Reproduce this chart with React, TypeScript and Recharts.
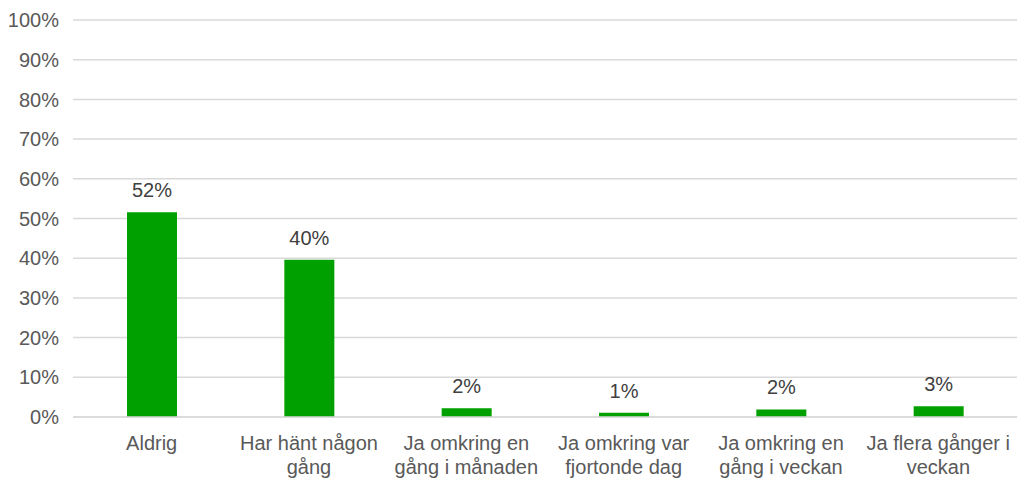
import React from 'react';
import { BarChart, Bar, XAxis, YAxis, CartesianGrid, LabelList } from 'recharts';

const categories = [
  'Aldrig',
  'Har hänt någon gång',
  'Ja omkring en gång i månaden',
  'Ja omkring var fjortonde dag',
  'Ja omkring en gång i veckan',
  'Ja flera gånger i veckan',
];
const shares = [51.6, 39.6, 2.2, 1.1, 1.9, 2.7];
const yTicks = [0, 10, 20, 30, 40, 50, 60, 70, 80, 90, 100];

const data = categories.map((name, i) => ({ name, value: shares[i] }));

const FONT = '"Liberation Sans", Arial, sans-serif';

// break a label into lines no wider than maxWidth, measured with canvas
const wrapLabel = (label: string, maxWidth: number): string[] => {
  const ctx = document.createElement('canvas').getContext('2d');
  if (!ctx) return [label];
  ctx.font = `20px ${FONT}`;
  const lines: string[] = [];
  let cur = '';
  label.split(' ').forEach((word) => {
    const next = cur ? `${cur} ${word}` : word;
    if (cur && ctx.measureText(next).width > maxWidth) {
      lines.push(cur);
      cur = word;
    } else {
      cur = next;
    }
  });
  if (cur) lines.push(cur);
  return lines;
};

const CategoryTick = (props: any) => {
  const { x, y, payload } = props;
  const lines = wrapLabel(String(payload.value), 152);
  return (
    <text x={x} y={y} textAnchor="middle" fill="#595959" fontSize={20} fontFamily={FONT}>
      {lines.map((line, i) => (
        <tspan key={i} x={x} dy={i === 0 ? '0.8em' : 24}>
          {line}
        </tspan>
      ))}
    </text>
  );
};

export default function App() {
  return (
    <div style={{ position: 'absolute', left: 0, top: 0, background: '#fff' }}>
      <BarChart
        width={1022}
        height={482}
        data={data}
        margin={{ top: 20, right: 5, bottom: 0, left: 0 }}
        barSize={50}
      >
        <CartesianGrid vertical={false} stroke="#d9d9d9" strokeWidth={1.5} />
        <XAxis
          dataKey="name"
          axisLine={{ stroke: '#d9d9d9', strokeWidth: 1.5 }}
          tickLine={false}
          tickMargin={11}
          height={65}
          interval={0}
          tick={<CategoryTick />}
        />
        <YAxis
          domain={[0, 100]}
          ticks={yTicks}
          width={73}
          axisLine={false}
          tickLine={false}
          tickSize={0}
          tickMargin={14}
          tickFormatter={(v: number) => `${v}%`}
          tick={{ fill: '#595959', fontSize: 20, fontFamily: FONT }}
        />
        <Bar dataKey="value" fill="#00a000" isAnimationActive={false}>
          <LabelList
            dataKey="value"
            position="top"
            offset={15}
            formatter={(v: any) => `${Math.round(Number(v))}%`}
            style={{ fill: '#404040', fontSize: 20, fontFamily: FONT }}
          />
        </Bar>
      </BarChart>
    </div>
  );
}
